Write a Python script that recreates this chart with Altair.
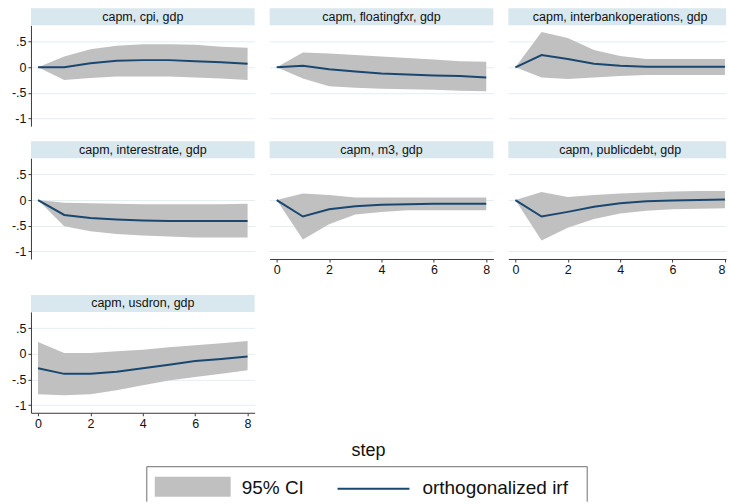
import altair as alt
import pandas as pd

# ---------------- data ----------------
steps = [0, 1, 2, 3, 4, 5, 6, 7, 8]

panel_titles = [
    "capm, cpi, gdp",
    "capm, floatingfxr, gdp",
    "capm, interbankoperations, gdp",
    "capm, interestrate, gdp",
    "capm, m3, gdp",
    "capm, publicdebt, gdp",
    "capm, usdron, gdp",
]

irf_cpi = [0, 0, 0.08, 0.13, 0.14, 0.14, 0.12, 0.10, 0.07]
lo_cpi = [0, -0.25, -0.21, -0.18, -0.18, -0.18, -0.20, -0.22, -0.25]
hi_cpi = [0, 0.21, 0.35, 0.42, 0.45, 0.45, 0.44, 0.40, 0.38]

irf_fx = [0, 0.03, -0.04, -0.08, -0.12, -0.14, -0.16, -0.17, -0.20]
lo_fx = [0, -0.22, -0.37, -0.40, -0.42, -0.43, -0.44, -0.46, -0.47]
hi_fx = [0, 0.29, 0.27, 0.24, 0.21, 0.18, 0.15, 0.12, 0.11]

irf_ib = [0, 0.24, 0.16, 0.07, 0.03, 0.01, 0.01, 0.01, 0.01]
lo_ib = [0, -0.20, -0.23, -0.20, -0.17, -0.15, -0.15, -0.15, -0.15]
hi_ib = [0, 0.69, 0.57, 0.34, 0.22, 0.16, 0.16, 0.16, 0.16]

irf_ir = [0, -0.29, -0.35, -0.38, -0.40, -0.41, -0.41, -0.41, -0.41]
lo_ir = [0, -0.51, -0.61, -0.66, -0.69, -0.71, -0.73, -0.73, -0.73]
hi_ir = [0, -0.05, -0.06, -0.07, -0.08, -0.08, -0.08, -0.08, -0.07]

irf_m3 = [0, -0.32, -0.18, -0.12, -0.09, -0.08, -0.07, -0.07, -0.07]
lo_m3 = [0, -0.77, -0.47, -0.28, -0.23, -0.20, -0.20, -0.20, -0.20]
hi_m3 = [0, 0.13, 0.10, 0.05, 0.05, 0.05, 0.05, 0.05, 0.05]

irf_pd = [0, -0.32, -0.23, -0.13, -0.06, -0.02, -0.01, 0.00, 0.01]
lo_pd = [0, -0.79, -0.54, -0.37, -0.26, -0.21, -0.18, -0.17, -0.16]
hi_pd = [0, 0.16, 0.06, 0.10, 0.13, 0.15, 0.17, 0.18, 0.18]

irf_usd = [-0.28, -0.39, -0.39, -0.35, -0.28, -0.21, -0.14, -0.10, -0.05]
lo_usd = [-0.79, -0.81, -0.79, -0.71, -0.61, -0.52, -0.45, -0.39, -0.32]
hi_usd = [0.23, 0.02, 0.02, 0.05, 0.08, 0.13, 0.17, 0.21, 0.25]

irfs = [irf_cpi, irf_fx, irf_ib, irf_ir, irf_m3, irf_pd, irf_usd]
los = [lo_cpi, lo_fx, lo_ib, lo_ir, lo_m3, lo_pd, lo_usd]
his = [hi_cpi, hi_fx, hi_ib, hi_ir, hi_m3, hi_pd, hi_usd]

y_ticks = [-1, -0.5, 0, 0.5]
y_tick_labels = ["-1", "-.5", "0", ".5"]
x_ticks = [0, 2, 4, 6, 8]
x_title = "step"
legend_labels = ["95% CI", "orthogonalized irf"]

# ---------------- style ----------------
FONT = "Liberation Sans"
NAVY = "#1a476f"
BAND = "#c0c0c0"
STRIP = "#d9e7ee"
GRID = "#e4eef2"
AXIS = "#3a3a3a"
BOX = "#6e6e6e"
TXT = "#111111"

PH = 101
Y_DOM = [-1.15, 0.82]

y_label_expr = " : ".join(
    f"datum.value == {v} ? '{l}'" for v, l in zip(y_ticks, y_tick_labels)
) + " : ''"


def panel(i, show_y, show_x, width, xdom, text_x, flush=None):
    df = pd.DataFrame({"step": steps, "irf": irfs[i], "lo": los[i], "hi": his[i]})
    tdf = pd.DataFrame({"title": [panel_titles[i]]})

    if show_y:
        yaxis = alt.Axis(values=y_ticks, labelExpr=y_label_expr, grid=True,
                         title=None, domain=True, ticks=True, tickSize=3,
                         labelPadding=2, minExtent=30, maxExtent=30)
    else:
        yaxis = alt.Axis(values=y_ticks, grid=True, title=None, domain=False,
                         ticks=False, labels=False, minExtent=0, maxExtent=0)
    if show_x:
        xkw = dict(values=x_ticks, grid=False, title=None, tickSize=3,
                   labelPadding=2, minExtent=21, maxExtent=21, format="d")
        if flush is not None:
            xkw["labelFlush"] = flush
        xaxis = alt.Axis(**xkw)
    else:
        xaxis = None

    xs = alt.Scale(domain=xdom, nice=False, zero=False)
    ys = alt.Scale(domain=Y_DOM, nice=False, zero=False)

    base = alt.Chart(df)
    band = base.mark_area(color=BAND, opacity=1).encode(
        x=alt.X("step:Q", scale=xs, axis=xaxis),
        y=alt.Y("lo:Q", scale=ys, axis=yaxis),
        y2="hi:Q",
    )
    line = base.mark_line(color=NAVY, strokeWidth=2).encode(
        x=alt.X("step:Q", scale=xs, axis=xaxis),
        y=alt.Y("irf:Q", scale=ys, axis=yaxis),
    )
    strip = alt.Chart(tdf).mark_rect(color=STRIP).encode(
        x=alt.value(0), x2=alt.value(width), y=alt.value(-17), y2=alt.value(0)
    )
    stext = alt.Chart(tdf).mark_text(
        font=FONT, fontSize=12.5, color=TXT, align="center", baseline="middle"
    ).encode(x=alt.value(text_x), y=alt.value(-8.5), text="title:N")
    return alt.layer(band, line, strip, stext).properties(width=width, height=PH)


W1 = 224
W3 = 218
DOM12 = [-0.27, 8.27]
DOM3 = [-0.27, 8.04]

p1 = panel(0, True, False, W1, DOM12, W1 / 2)
p2 = panel(1, False, False, W1, DOM12, W1 / 2)
p3 = panel(2, False, False, W3, DOM3, 112)
p4 = panel(3, True, False, W1, DOM12, W1 / 2)
p5 = panel(4, False, True, W1, DOM12, W1 / 2)
p6 = panel(5, False, True, W3, DOM3, 112, flush=2)
p7 = panel(6, True, True, W1, DOM12, W1 / 2)

row1 = alt.hconcat(p1, p2, p3, spacing=15)
row2 = alt.hconcat(p4, p5, p6, spacing=15)
row3 = alt.hconcat(p7, spacing=15)
grid = alt.vconcat(row1, row2, row3, spacing=15)

# ---------------- footer: axis title + legend ----------------
# footer origin sits at the plot-area left of the first column (x = 31)
FW, FH = 660, 68
fdf = pd.DataFrame({"a": [0]})
fb = alt.Chart(fdf)
step_txt = fb.mark_text(font=FONT, fontSize=18, color=TXT, align="center",
                        baseline="middle").encode(
    x=alt.value(338), y=alt.value(17), text=alt.value(x_title))
box_top = fb.mark_rule(color=BOX, strokeWidth=1).encode(
    x=alt.value(116), x2=alt.value(557), y=alt.value(33))
box_left = fb.mark_rule(color=BOX, strokeWidth=1).encode(
    x=alt.value(116), y=alt.value(33), y2=alt.value(FH))
box_right = fb.mark_rule(color=BOX, strokeWidth=1).encode(
    x=alt.value(557), y=alt.value(33), y2=alt.value(FH))
swatch = fb.mark_rect(color=BAND).encode(
    x=alt.value(124), x2=alt.value(200), y=alt.value(43), y2=alt.value(63))
ci_txt = fb.mark_text(font=FONT, fontSize=19, color=TXT, align="left",
                      baseline="middle").encode(
    x=alt.value(211), y=alt.value(54), text=alt.value(legend_labels[0]))
leg_line = fb.mark_rule(color=NAVY, strokeWidth=2).encode(
    x=alt.value(307), x2=alt.value(379), y=alt.value(55))
irf_txt = fb.mark_text(font=FONT, fontSize=19, color=TXT, align="left",
                       baseline="middle").encode(
    x=alt.value(392), y=alt.value(54), text=alt.value(legend_labels[1]))
footer = alt.layer(step_txt, box_top, box_left, box_right, swatch, ci_txt,
                   leg_line, irf_txt).properties(width=FW, height=FH)

chart = alt.vconcat(grid, footer, spacing=0).properties(
    padding={"left": 1, "top": 8, "right": 0, "bottom": 0},
    background="white",
).configure_view(stroke=None).configure_axis(
    labelFont=FONT, labelFontSize=12.5, labelColor=TXT,
    domainColor=AXIS, tickColor=AXIS, gridColor=GRID, gridWidth=1,
    domainWidth=1, tickWidth=1,
)

chart.save("out.html", embed_options={"renderer": "svg", "actions": False})
